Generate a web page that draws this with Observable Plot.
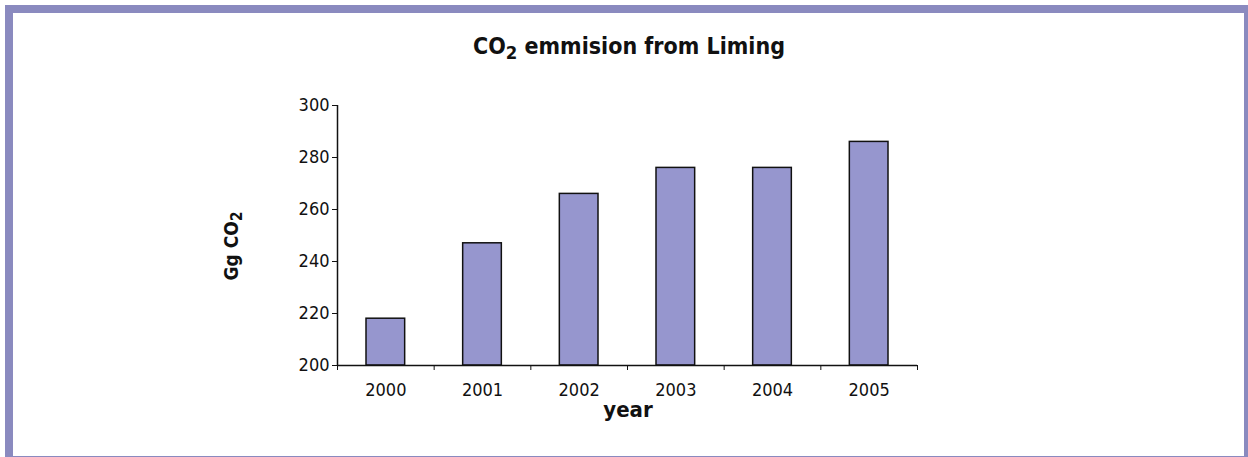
<!DOCTYPE html>
<html>
<head>
<meta charset="utf-8">
<script src="https://cdn.jsdelivr.net/npm/d3@7"></script>
<script src="https://cdn.jsdelivr.net/npm/@observablehq/plot@0.6"></script>
<style>
  html, body { margin: 0; padding: 0; background: #fff; }
  #wrap { position: relative; width: 1248px; height: 457px; overflow: hidden;
    font-family: "DejaVu Sans Condensed", "Liberation Sans Narrow", sans-serif; color: #111; }
  #frame { position: absolute; left: 5px; top: 5px; width: 1243px; height: 452px; box-sizing: border-box;
    border-top: 8px solid #8a8abf; border-left: 8px solid #8a8abf; border-right: 4px solid #8a8abf; border-bottom: 1px solid #8a8abf; }
  #chart { position: absolute; left: 0; top: 0; }
  .t { position: absolute; font-weight: bold; white-space: nowrap; }
  #title { left: 0; width: 1258px; text-align: center; top: 33px; font-size: 23px; line-height: 26px; }
  #ylab { left: 231px; top: 246px; font-size: 19px; line-height: 20px; transform: translate(-50%, -50%) rotate(-90deg); }
  #xlab { left: 628px; top: 410px; font-size: 22px; line-height: 24px; transform: translate(-50%, -50%); }
  sub { font-size: 0.8em; vertical-align: -0.25em; line-height: 0; }
</style>
</head>
<body>
<div id="wrap">
  <div id="frame"></div>
  <div id="chart"></div>
  <div class="t" id="title">CO<sub>2</sub> emmision from Liming</div>
  <div class="t" id="ylab">Gg CO<sub>2</sub></div>
  <div class="t" id="xlab">year</div>
</div>
<script>
const years = [2000, 2001, 2002, 2003, 2004, 2005];
const values = [218, 247, 266, 276, 276, 286];
const yTicks = [200, 220, 240, 260, 280, 300];

const data = years.map((year, i) => ({year, value: values[i]}));
const boundaries = [...years.map(y => y - 0.5), years[years.length - 1] + 0.5];

const chart = Plot.plot({
  width: 1248,
  height: 457,
  marginLeft: 337,
  marginRight: 331,
  marginTop: 105,
  marginBottom: 92,
  x: {domain: [years[0] - 0.5, years[years.length - 1] + 0.5], axis: null},
  y: {domain: [200, 300], axis: null},
  style: {fontFamily: '"DejaVu Sans Condensed", sans-serif', fontSize: "18px", background: "transparent", color: "#111"},
  marks: [
    Plot.rectY(data, {x1: d => d.year - 0.2, x2: d => d.year + 0.2, y1: 200, y2: "value", fill: "#9696ce", stroke: "#111", strokeWidth: 1.5}),
    Plot.axisY({ticks: yTicks, tickSize: 5, tickPadding: 3, label: null, fontSize: 18, tickFormat: d => String(d)}),
    Plot.axisX({ticks: boundaries, tickSize: 5, tickFormat: () => "", label: null}),
    Plot.axisX({ticks: years, tickSize: 0, tickPadding: 18, fontSize: 18, tickFormat: d => String(d), label: null}),
    Plot.ruleX([years[0] - 0.5], {stroke: "#111", strokeWidth: 1.5}),
    Plot.ruleY([200], {stroke: "#111", strokeWidth: 1.5})
  ]
});
document.getElementById("chart").appendChild(chart);
</script>
</body>
</html>
